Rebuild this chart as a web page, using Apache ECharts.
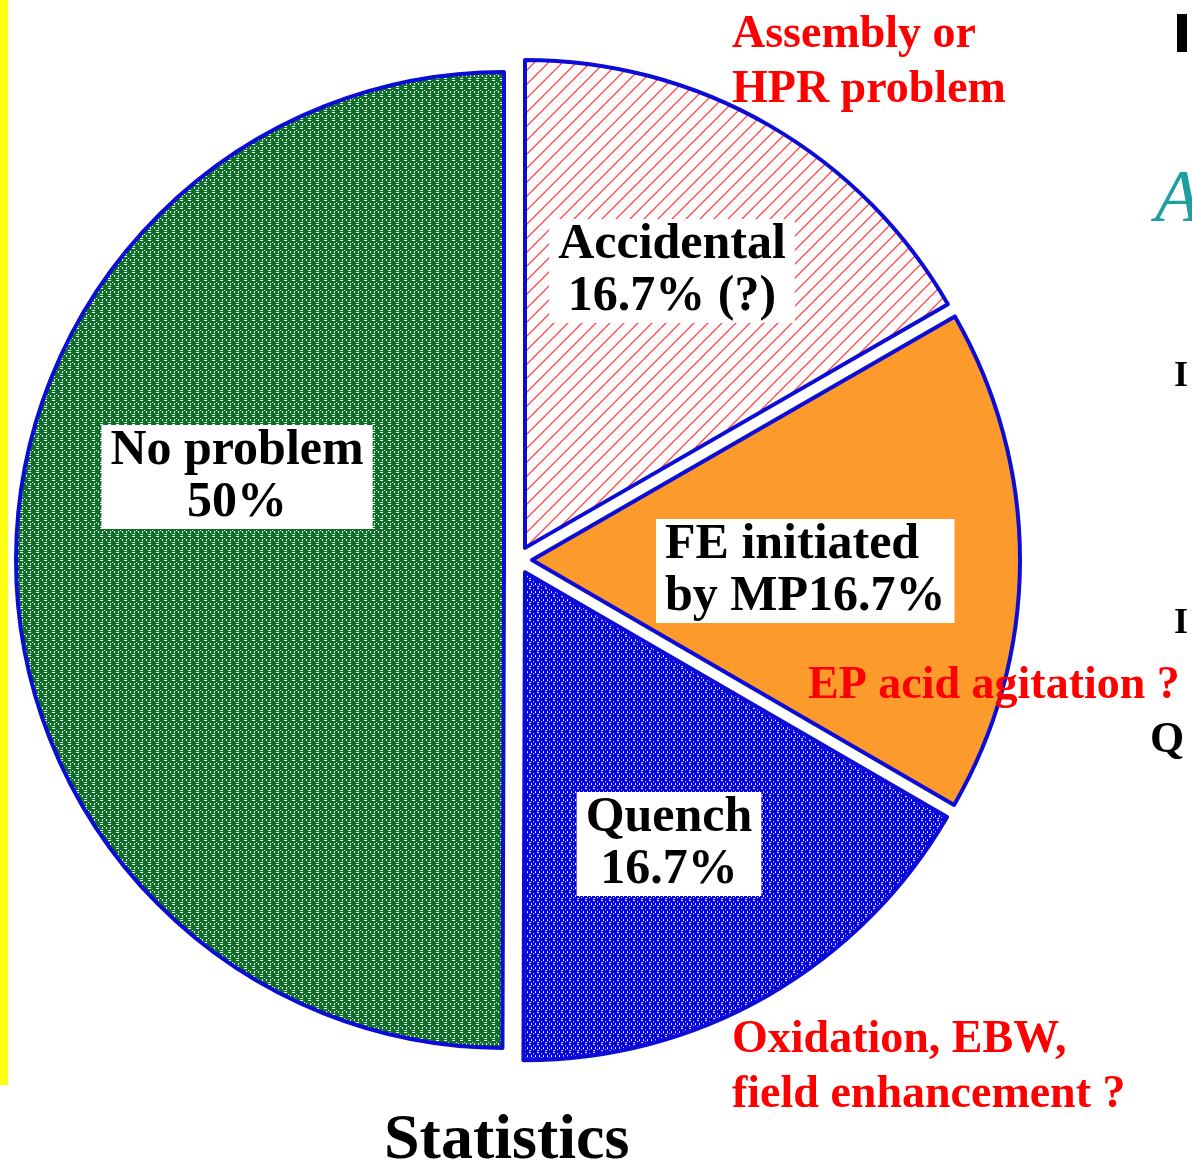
<!DOCTYPE html>
<html>
<head>
<meta charset="utf-8">
<script src="https://cdn.jsdelivr.net/npm/echarts@6/dist/echarts.min.js"></script>
<style>
  html, body { margin: 0; padding: 0; background: #fff; }
  #chart { width: 1192px; height: 1164px; }
</style>
</head>
<body>
<div id="chart"></div>
<script>
// slices, clockwise from 12 o'clock
const categories = ['Accidental', 'FE initiated by MP', 'Quench', 'No problem']
const shares = [16.7, 16.7, 16.7, 50]
const sliceLabels = ['Accidental\n16.7% (?)', 'FE initiated\nby MP16.7%', 'Quench\n16.7%', 'No problem\n50%']
const notes = ['Assembly or\nHPR problem', 'EP acid agitation ?', 'Oxidation, EBW,\nfield enhancement ?']
const chartTitle = 'Statistics'

const serif = '"Liberation Serif", "Times New Roman", serif'
const edgeBlue = '#0c0cd6'

// small tiled fills like the old office-chart patterns
function dotPattern(bg, size, marks) {
  const c = document.createElement('canvas')
  c.width = size
  c.height = size
  const ctx = c.getContext('2d')
  ctx.fillStyle = bg
  ctx.fillRect(0, 0, size, size)
  ctx.fillStyle = '#fff'
  marks.forEach(m => ctx.fillRect(m[0], m[1], m[2], m[3]))
  return { image: c, repeat: 'repeat' }
}

function hatchPattern(color, size) {
  const c = document.createElement('canvas')
  c.width = size
  c.height = size
  const ctx = c.getContext('2d')
  ctx.fillStyle = '#fff'
  ctx.fillRect(0, 0, size, size)
  ctx.strokeStyle = color
  ctx.lineWidth = 1.2
  ctx.beginPath()
  ctx.moveTo(-2, size + 2); ctx.lineTo(size + 2, -2)
  ctx.moveTo(-2, 2); ctx.lineTo(2, -2)
  ctx.moveTo(size - 2, size + 2); ctx.lineTo(size + 2, size - 2)
  ctx.stroke()
  return { image: c, repeat: 'repeat' }
}

const greenMarks = [[2, 0, 3, 1], [0, 3, 1, 2], [4, 3, 1, 2], [2, 6, 3, 1], [6, 2, 1, 1]]
const blueMarks = [[2, 0, 2, 1], [0, 3, 1, 2], [4, 3, 1, 2], [2, 6, 2, 1], [6, 1, 1, 1], [6, 5, 1, 1]]
const fills = [
  hatchPattern('#ff2626', 14),
  '#fd9a2c',
  dotPattern('#0000d8', 8, blueMarks),
  dotPattern('#0a7024', 8, greenMarks)
]

// where each slice label box sits (box centre, or left edge for the FE one)
const labelSpots = [
  { x: 672, y: 271, align: 'center' },
  { x: 656, y: 571, align: 'left' },
  { x: 669, y: 844, align: 'center' },
  { x: 237, y: 477, align: 'center' }
]
const noteSpots = [
  { x: 732, y: 8 },
  { x: 808, y: 659 },
  { x: 732, y: 1013 }
]

const chart = echarts.init(document.getElementById('chart'))

const labelGraphics = sliceLabels.map((t, i) => ({
  type: 'text',
  x: labelSpots[i].x,
  y: labelSpots[i].y,
  style: {
    text: t,
    fill: '#000',
    fontFamily: serif,
    fontWeight: 'bold',
    fontSize: 50,
    lineHeight: 52,
    textAlign: labelSpots[i].align,
    textVerticalAlign: 'middle',
    backgroundColor: '#fff',
    padding: [0, 9]
  },
  z: 90
}))

const noteGraphics = notes.map((t, i) => ({
  type: 'text',
  x: noteSpots[i].x,
  y: noteSpots[i].y,
  style: {
    text: t,
    fill: '#ff0000',
    fontFamily: serif,
    fontWeight: 'bold',
    fontSize: 46,
    lineHeight: 55,
    textVerticalAlign: 'top'
  },
  z: 100
}))

chart.setOption({
  animation: false,
  backgroundColor: '#fff',
  title: {
    text: chartTitle,
    left: 384,
    top: 1109,
    padding: 0,
    textStyle: { fontFamily: serif, fontWeight: 'bold', fontSize: 64, lineHeight: 64, color: '#000' }
  },
  series: [{
    type: 'pie',
    center: [518, 560],
    radius: 488,
    startAngle: 90,
    clockwise: true,
    selectedMode: 'multiple',
    selectedOffset: 14,
    avoidLabelOverlap: false,
    emphasis: { disabled: true },
    itemStyle: { borderColor: edgeBlue, borderWidth: 4 },
    label: { show: false },
    labelLine: { show: false },
    data: categories.map((name, i) => ({
      name: name,
      value: shares[i],
      selected: true,
      itemStyle: { color: fills[i] }
    }))
  }],
  graphic: [
    { type: 'rect', shape: { x: 0, y: 0, width: 8, height: 1085 }, style: { fill: '#ffff14' } },
    // bits of the neighbouring slide cut off at the right edge
    { type: 'rect', shape: { x: 1177, y: 14, width: 10, height: 38 }, style: { fill: '#000' } },
    { type: 'text', x: 1155, y: 202, style: { text: 'A', fill: '#1fa0a0', fontFamily: serif, fontStyle: 'italic', fontSize: 74, textVerticalAlign: 'middle' } },
    { type: 'text', x: 1174, y: 377, style: { text: 'I', fill: '#000', fontFamily: serif, fontWeight: 'bold', fontSize: 36, textVerticalAlign: 'middle' } },
    { type: 'text', x: 1174, y: 624, style: { text: 'I', fill: '#000', fontFamily: serif, fontWeight: 'bold', fontSize: 36, textVerticalAlign: 'middle' } },
    { type: 'text', x: 1150, y: 741, style: { text: 'Q', fill: '#000', fontFamily: serif, fontWeight: 'bold', fontSize: 44, textVerticalAlign: 'middle' } }
  ].concat(labelGraphics, noteGraphics)
})
</script>
</body>
</html>
